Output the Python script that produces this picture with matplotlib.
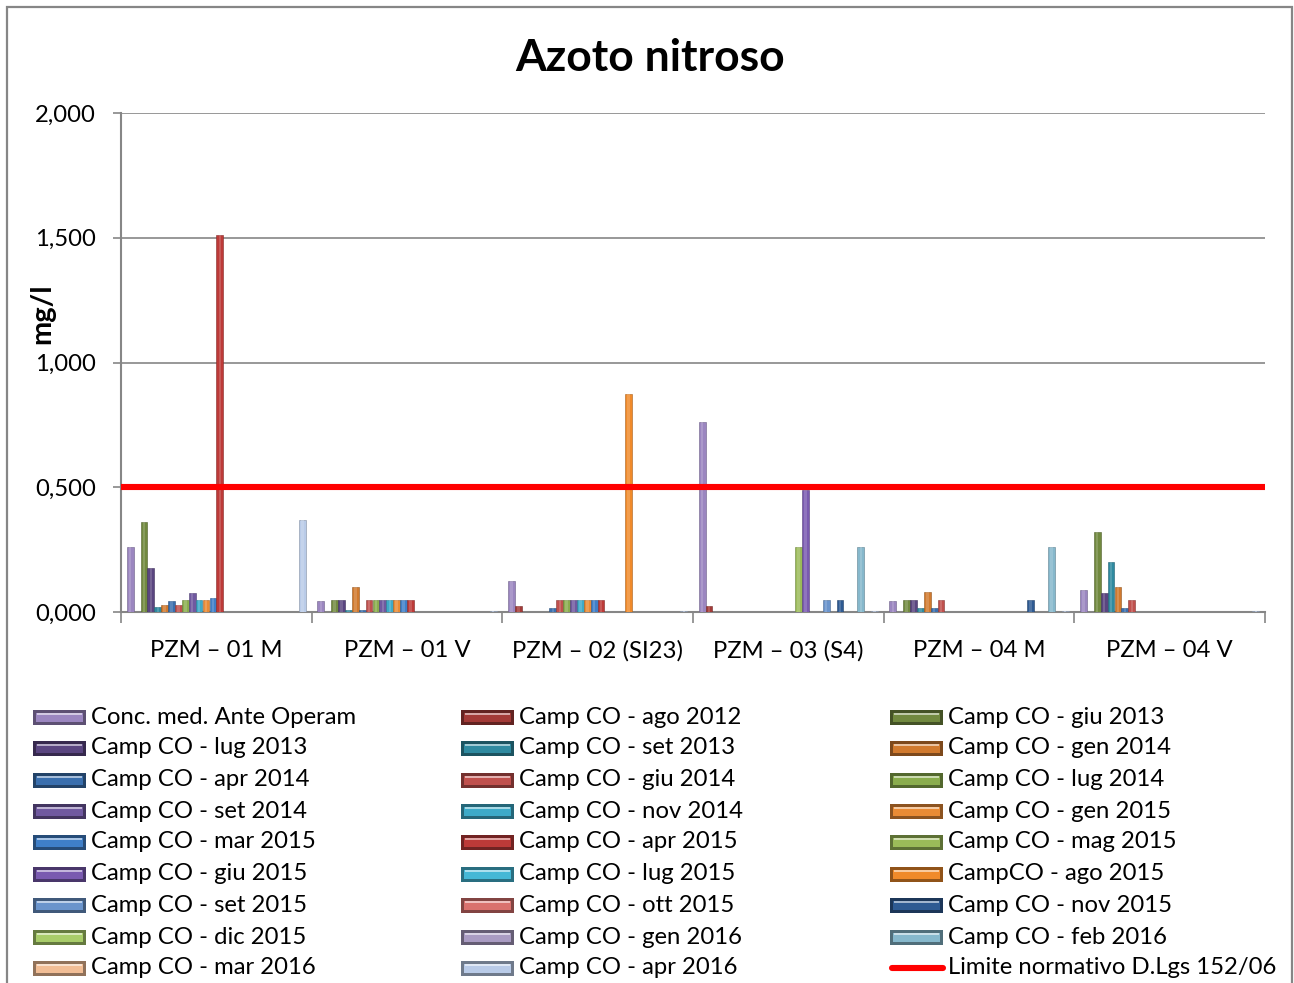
import numpy as np
import matplotlib.pyplot as plt
import matplotlib.colors as mcolors
from matplotlib.patches import Rectangle
from matplotlib.lines import Line2D

plt.rcParams['font.family'] = ['Lato', 'DejaVu Sans']

stations = ['PZM – 01 M', 'PZM – 01 V', 'PZM – 02 (SI23)',
            'PZM – 03 (S4)', 'PZM – 04 M', 'PZM – 04 V']

campaigns = ['Conc. med. Ante Operam', 'Camp CO - ago 2012', 'Camp CO - giu 2013',
             'Camp CO - lug 2013', 'Camp CO - set 2013', 'Camp CO - gen 2014',
             'Camp CO - apr 2014', 'Camp CO - giu 2014', 'Camp CO - lug 2014',
             'Camp CO - set 2014', 'Camp CO - nov 2014', 'Camp CO - gen 2015',
             'Camp CO - mar 2015', 'Camp CO - apr 2015', 'Camp CO - mag 2015',
             'Camp CO - giu 2015', 'Camp CO - lug 2015', 'CampCO - ago 2015',
             'Camp CO - set 2015', 'Camp CO - ott 2015', 'Camp CO - nov 2015',
             'Camp CO - dic 2015', 'Camp CO - gen 2016', 'Camp CO - feb 2016',
             'Camp CO - mar 2016', 'Camp CO - apr 2016']

colors = ['#9B86C0', '#A33A37', '#71893F', '#5A4580', '#2F8AA0', '#D17A2E',
          '#3A6FAE', '#C0504D', '#8AAD4D', '#7059A0', '#3DAAC8', '#E98B35',
          '#3F7FC8', '#BD3A38', '#9BBB59', '#7A5AB0', '#45B8D6', '#F08A2A',
          '#6A94CC', '#D9716E', '#2E5A92', '#A8CC6A', '#A99BC2', '#86B8CC',
          '#F2BE96', '#B9CBE8']

# mg/l per station, one row per campaign (0 = not sampled)
pzm01m = [0.26, 0, 0.36, 0.175, 0.02, 0.03, 0.045, 0.03, 0.05, 0.075, 0.05, 0.05, 0.055,
          1.51, 0, 0, 0, 0, 0, 0, 0, 0, 0, 0, 0, 0.37]
pzm01v = [0.045, 0, 0.05, 0.05, 0.01, 0.1, 0.01, 0.05, 0.05, 0.05, 0.05, 0.05, 0.05,
          0.05, 0, 0, 0, 0, 0, 0, 0, 0, 0, 0, 0, 0.005]
pzm02 = [0.125, 0.025, 0, 0, 0, 0, 0.015, 0.05, 0.05, 0.05, 0.05, 0.05, 0.05,
         0.05, 0, 0, 0, 0.874, 0, 0, 0, 0, 0, 0, 0, 0.005]
pzm03 = [0.76, 0.025, 0, 0, 0, 0, 0, 0, 0, 0, 0, 0, 0,
         0, 0.26, 0.49, 0, 0, 0.05, 0, 0.05, 0, 0, 0.26, 0, 0.005]
pzm04m = [0.045, 0, 0.05, 0.05, 0.015, 0.08, 0.015, 0.05, 0, 0, 0, 0, 0,
          0, 0, 0, 0, 0, 0, 0, 0.05, 0, 0, 0.26, 0, 0.005]
pzm04v = [0.09, 0, 0.32, 0.075, 0.2, 0.1, 0.015, 0.05, 0, 0, 0, 0, 0,
          0, 0, 0, 0, 0, 0, 0, 0, 0, 0, 0, 0, 0.005]

limit = 0.5
limit_label = 'Limite normativo D.Lgs 152/06'

values = np.array([pzm01m, pzm01v, pzm02, pzm03, pzm04m, pzm04v]).T

W, H = 1294, 983
fig = plt.figure(figsize=(W / 100, H / 100), dpi=100)
ax = fig.add_axes([121 / W, 1 - 612 / H, (1265 - 121) / W, (612 - 113) / H])

grey = '#868686'
fs = 17.2
n = len(campaigns)
group = 0.94
w = group / n
x = np.arange(len(stations))


def shade(c, f):
    r = np.array(mcolors.to_rgb(c))
    return tuple(r * f) if f < 1 else tuple(r + (1 - r) * (f - 1))


for i in range(n):
    pos = x + (1 - group) / 2 + w * (i + 0.5)
    ax.bar(pos, values[i], width=w * 0.98, color=colors[i],
           edgecolor=shade(colors[i], 0.7), linewidth=0.4, zorder=3)
    ax.bar(pos, values[i], width=w * 0.35, color=shade(colors[i], 1.3),
           alpha=0.55, linewidth=0, zorder=4)

ax.plot([0, len(stations)], [limit, limit], color='#FF0000', lw=4.4,
        solid_capstyle='butt', zorder=5, clip_on=False)

ax.set_xlim(0, len(stations))
ax.set_ylim(0, 2.0)
ax.set_yticks(np.arange(0, 2.01, 0.5))
ax.set_yticklabels([f'{v:.3f}'.replace('.', ',') for v in np.arange(0, 2.01, 0.5)])
ax.set_xticks(np.arange(0, len(stations) + 1))
ax.set_xticklabels([])
ax.set_xticks(x + 0.5, minor=True)
ax.set_xticklabels(stations, minor=True)
ax.tick_params(axis='x', which='major', length=8, color=grey, width=1.2)
ax.tick_params(axis='x', which='minor', length=0, labelsize=fs, pad=20)
ax.tick_params(axis='y', length=6, color=grey, width=1.2, labelsize=fs, pad=12)
ax.grid(axis='y', color=grey, lw=1.2, zorder=0)
for s in ['top', 'right']:
    ax.spines[s].set_visible(False)
for s in ['left', 'bottom']:
    ax.spines[s].set_color(grey)
    ax.spines[s].set_linewidth(1.5)

fig.text(650 / W, 1 - 58 / H, 'Azoto nitroso', ha='center', va='center',
         fontsize=32, fontweight='bold')
fig.text(42 / W, 1 - 314 / H, 'mg/l', ha='center', va='center', rotation=90,
         fontsize=21, fontweight='bold')

# outer chart frame
fig.add_artist(Rectangle((7 / W, -0.02), (1292 - 7) / W, 1.02 - 7 / H,
                         transform=fig.transFigure, fill=False,
                         edgecolor=grey, lw=1.6))

# legend, filled row by row in three columns
col_x = [33, 461, 890]
row_y = [717, 748, 780, 811, 842, 874, 905, 937, 968]
hw, hh = 53, 15
for k, lab in enumerate(campaigns + [limit_label]):
    r, c = divmod(k, 3)
    x0, yc = col_x[c], row_y[r]
    if k < n:
        col = colors[k]
        fig.add_artist(Rectangle((x0 / W, 1 - (yc + hh / 2) / H), hw / W, hh / H,
                                 transform=fig.transFigure, facecolor=shade(col, 0.6),
                                 edgecolor='none'))
        fig.add_artist(Rectangle(((x0 + 3) / W, 1 - (yc + hh / 2 - 3) / H),
                                 (hw - 6) / W, (hh - 6) / H,
                                 transform=fig.transFigure, facecolor=col,
                                 edgecolor='none'))
        fig.add_artist(Rectangle(((x0 + 4) / W, 1 - (yc - 2) / H),
                                 (hw - 8) / W, 2.5 / H,
                                 transform=fig.transFigure, facecolor=shade(col, 1.55),
                                 edgecolor='none'))
    else:
        fig.add_artist(Line2D([(x0 + 2) / W, (x0 + 53) / W], [1 - yc / H] * 2,
                              transform=fig.transFigure, color='#FF0000', lw=4.4,
                              solid_capstyle='round'))
    fig.text((x0 + 58) / W, 1 - yc / H, lab, ha='left', va='center', fontsize=fs)

fig.savefig('out.png', dpi=100)
